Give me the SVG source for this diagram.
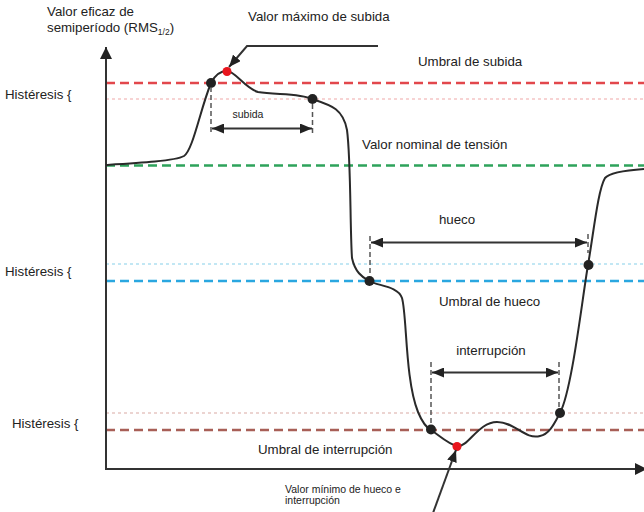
<svg xmlns="http://www.w3.org/2000/svg" width="644" height="512" viewBox="0 0 644 512">
<style>
text{font-family:"Liberation Sans",Arial,sans-serif;fill:#222}
.t{font-size:13.3px}
.s{font-size:10.5px}
.axis{stroke:#333;stroke-width:2;fill:none}
.dim{stroke:#333;stroke-width:2;fill:none}
.vd{stroke:#555;stroke-width:1.5;stroke-dasharray:5 3;fill:none}
.th{stroke-width:2.3;stroke-dasharray:9 5;fill:none}
.hy{stroke-width:1.2;stroke-dasharray:3 3;fill:none}
.curve{stroke:#2a2a2a;stroke-width:2;fill:none}
.dot{fill:#222}
.rdot{fill:#e8161e}
</style>
<defs>
<marker id="ah" viewBox="0 0 12 10" refX="12" refY="5" markerWidth="12" markerHeight="10" markerUnits="userSpaceOnUse" orient="auto-start-reverse">
<path d="M0,0 L12,5 L0,10 Z" fill="#222"/>
</marker>
<marker id="ax" viewBox="0 0 12 12" refX="12" refY="6" markerWidth="12" markerHeight="12" markerUnits="userSpaceOnUse" orient="auto">
<path d="M0,0 L12,6 L0,12 Z" fill="#222"/>
</marker>
</defs>

<g id="thresholds">
<line class="th" x1="106" y1="83" x2="644" y2="83" stroke="#e2474c"/>
<line class="hy" x1="106" y1="99" x2="644" y2="99" stroke="#f0a8a8"/>
<line class="th" x1="106" y1="165.5" x2="644" y2="165.5" stroke="#2ea35b"/>
<line class="hy" x1="106" y1="264" x2="644" y2="264" stroke="#86cfea"/>
<line class="th" x1="106" y1="281" x2="644" y2="281" stroke="#2aa7e0"/>
<line class="hy" x1="106" y1="413" x2="644" y2="413" stroke="#d9aaa3"/>
<line class="th" x1="106" y1="430" x2="644" y2="430" stroke="#a85f57"/>
</g>

<g id="axes">
<line class="axis" x1="106" y1="469" x2="106" y2="47" marker-end="url(#ax)"/>
<line class="axis" x1="105" y1="469" x2="647" y2="469" marker-end="url(#ax)"/>
</g>

<g id="signal">
<path class="curve" d="M106,165 C140,163 175,161 184,156 C193,150 200,110 211,83 C215,75 220,71 227,71 C235,71 245,88 258,92 C275,95 300,93 312,99 C330,105 343,108 347,130 C351,160 350,230 352,258 C355,272 362,277 369,281 C378,286 398,286 402,298 C407,315 405,380 418,412 C423,424 427,428 431,430 C440,436 448,444 457,446 C468,448 478,422 497,422 C515,422 525,440 540,436 C550,434 555,422 560,413 C572,390 582,300 588,265 C594,230 598,190 605,178 C610,172 630,170 644,169"/>
</g>

<g id="points">
<circle class="dot" cx="211" cy="83" r="5"/>
<circle class="rdot" cx="227" cy="71.5" r="4.5"/>
<circle class="dot" cx="312.5" cy="99" r="5"/>
<circle class="dot" cx="369.5" cy="281" r="5"/>
<circle class="dot" cx="588.5" cy="265" r="5"/>
<circle class="dot" cx="431" cy="429.5" r="5"/>
<circle class="rdot" cx="457" cy="446.5" r="4.5"/>
<circle class="dot" cx="560" cy="413" r="5"/>
</g>

<g id="connectors">
<line class="vd" x1="211" y1="87" x2="211" y2="134"/>
<line class="vd" x1="312.5" y1="104" x2="312.5" y2="134"/>
<line class="dim" x1="212" y1="128.5" x2="312" y2="128.5" marker-start="url(#ah)" marker-end="url(#ah)"/>
<line class="vd" x1="370" y1="236" x2="370" y2="276"/>
<line class="vd" x1="588" y1="234" x2="588" y2="253"/>
<line class="dim" x1="371" y1="242.5" x2="587" y2="242.5" marker-start="url(#ah)" marker-end="url(#ah)"/>
<line class="vd" x1="431" y1="362" x2="431" y2="425"/>
<line class="vd" x1="559" y1="362" x2="559" y2="408"/>
<line class="dim" x1="432" y1="372.5" x2="558" y2="372.5" marker-start="url(#ah)" marker-end="url(#ah)"/>
<polyline class="dim" points="378,46 247,46 229,67" marker-end="url(#ah)"/>
<line class="dim" x1="433" y1="513" x2="456" y2="450" marker-end="url(#ah)"/>
</g>

<g id="labels">
<text class="t" x="47" y="16">Valor eficaz de</text>
<text class="t" x="47" y="32">semiperíodo (RMS<tspan font-size="8.5" dy="3">1/2</tspan><tspan dy="-3">)</tspan></text>
<text class="t" x="248" y="21">Valor máximo de subida</text>
<text class="t" x="418" y="66">Umbral de subida</text>
<text class="s" x="248" y="118" text-anchor="middle">subida</text>
<text class="t" x="362" y="149">Valor nominal de tensión</text>
<text class="t" x="457" y="224" text-anchor="middle">hueco</text>
<text class="t" x="439" y="306">Umbral de hueco</text>
<text class="t" x="491" y="355" text-anchor="middle">interrupción</text>
<text class="t" x="258" y="454">Umbral de interrupción</text>
<text class="s" x="285" y="493">Valor mínimo de hueco e</text>
<text class="s" x="285" y="504">interrupción</text>
<text class="t" x="5" y="99">Histéresis {</text>
<text class="t" x="5" y="276">Histéresis {</text>
<text class="t" x="12" y="428">Histéresis {</text>
</g>
</svg>
